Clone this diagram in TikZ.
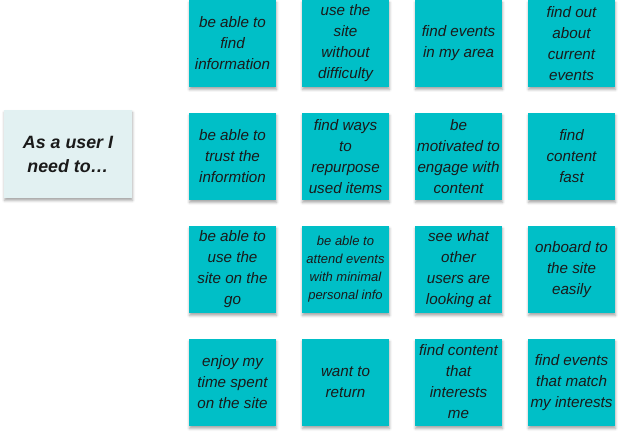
\documentclass[tikz,border=0pt]{standalone}
\usepackage{fontspec}
\setsansfont{Liberation Sans}
\usepackage{tikz}
\usetikzlibrary{shadows.blur}
\tikzstyle{every picture}+=[font=\sffamily]
\definecolor{stickyfill}{HTML}{00BFC7}
\definecolor{userfill}{HTML}{E2F1F2}
\definecolor{inktext}{HTML}{1A1A1A}

\begin{document}
\begin{tikzpicture}
	[font=\sffamily, x=1pt, y=-1pt, inner sep=0pt,
	sticky/.style	= {rectangle, fill=stickyfill, minimum width=87pt, minimum height=87pt, align=center, text=inktext,
				   font=\sffamily\itshape\fontsize{15.2}{21}\selectfont,
				   blur shadow={shadow xshift=0.5pt, shadow yshift=-2.5pt, shadow blur radius=2.5pt, shadow opacity=35}},
	small/.style	= {font=\sffamily\itshape\fontsize{13}{18}\selectfont},
	userbox/.style	= {rectangle, fill=userfill, minimum width=128pt, minimum height=88pt, align=center, text=inktext,
				   font=\sffamily\bfseries\itshape\fontsize{17.8}{24}\selectfont,
				   blur shadow={shadow xshift=0.5pt, shadow yshift=-2.5pt, shadow blur radius=2.5pt, shadow opacity=35}}]
	
	\useasboundingbox (0, 0) rectangle (620, 435);
	
	\node at (68, 154)	[userbox]	(user)	{As a user I\\need to\ldots};
	
	\node at (232.5, 43.5)	[sticky]	(findinfo)	{be able to\\find\\information};
	\node at (345.5, 43.5)	[sticky]	(usesite)	{use the\\site\\without\\difficulty};
	\node at (458.5, 43.5)	[sticky]	(events)	{find events\\in my area};
	\node at (571.5, 43.5)	[sticky]	(current)	{find out\\about\\current\\events};
	
	\node at (232.5, 156.5)	[sticky]	(trust)		{be able to\\trust the\\informtion};
	\node at (345.5, 156.5)	[sticky]	(repurpose)	{find ways\\to\\repurpose\\used items};
	\node at (458.5, 156.5)	[sticky]	(motivated)	{be\\motivated to\\engage with\\content};
	\node at (571.5, 156.5)	[sticky]	(fast)		{find\\content\\fast};
	
	\node at (232.5, 269.5)	[sticky]	(onthego)	{be able to\\use the\\site on the\\go};
	\node at (345.5, 269.5)	[sticky, small]	(attend)	{be able to\\attend events\\with minimal\\personal info};
	\node at (458.5, 269.5)	[sticky]	(others)	{see what\\other\\users are\\looking at};
	\node at (571.5, 269.5)	[sticky]	(onboard)	{onboard to\\the site\\easily};
	
	\node at (232.5, 382.5)	[sticky]	(enjoy)		{enjoy my\\time spent\\on the site};
	\node at (345.5, 382.5)	[sticky]	(return)	{want to\\return};
	\node at (458.5, 382.5)	[sticky]	(interests)	{\raisebox{-6pt}{\begin{tabular}{@{}c@{}}find content\\that\\interests\\me\end{tabular}}};
	\node at (571.5, 382.5)	[sticky]	(match)		{find events\\that match\\my interests};
	\end{tikzpicture}
\end{document}
